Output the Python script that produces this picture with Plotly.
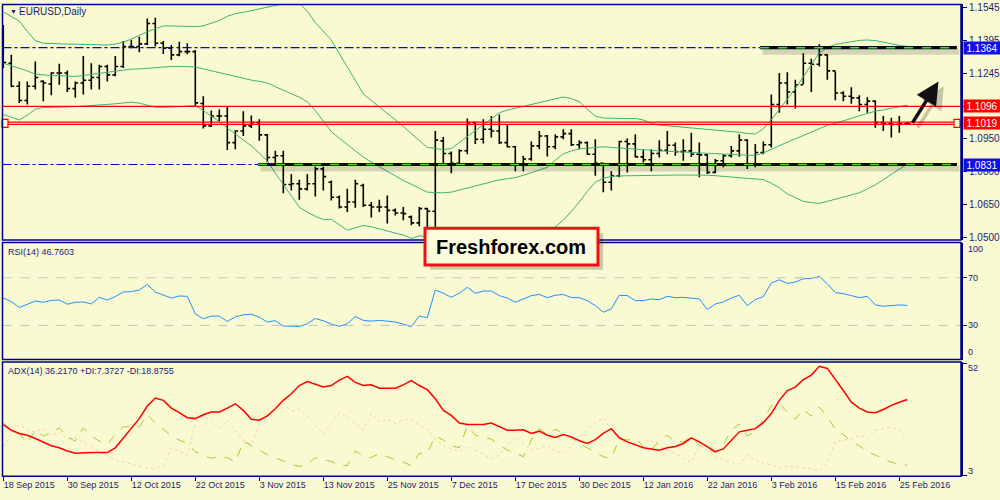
import plotly.graph_objects as go

# EURUSD daily bars, 18 Sep 2015 - 26 Feb 2016
opens = [1.1440, 1.1293, 1.1188, 1.1123, 1.1188, 1.1210, 1.1198, 1.1248, 1.1248, 1.1177,
         1.1203, 1.1215, 1.1228, 1.1278, 1.1240, 1.1278, 1.1369, 1.1369, 1.1381, 1.1474,
         1.1384, 1.1361, 1.1331, 1.1346, 1.1346, 1.1109, 1.1007, 1.1052, 1.1052, 1.0931,
         1.0984, 1.1007, 1.1022, 1.0966, 1.0863, 1.0871, 1.0740, 1.0743, 1.0720, 1.0743,
         1.0811, 1.0750, 1.0682, 1.0637, 1.0660, 1.0735, 1.0645, 1.0637, 1.0637, 1.0622,
         1.0610, 1.0592, 1.0565, 1.0630, 1.0618, 1.0939, 1.0881, 1.0836, 1.0894, 1.1022,
         1.0946, 1.0992, 1.0984, 1.0931, 1.0912, 1.0833, 1.0856, 1.0916, 1.0961, 1.0912,
         1.0957, 1.0972, 1.0921, 1.0931, 1.0878, 1.0836, 1.0750, 1.0780, 1.0936, 1.0925,
         1.0866, 1.0853, 1.0881, 1.0896, 1.0919, 1.0890, 1.0893, 1.0878, 1.0875, 1.0795,
         1.0848, 1.0871, 1.0893, 1.0942, 1.0833, 1.0886, 1.0921, 1.1105, 1.1203, 1.1162,
         1.1195, 1.1293, 1.1288, 1.1331, 1.1258, 1.1157, 1.1142, 1.1135, 1.1105, 1.1120,
         1.1022, 1.1017, 1.1014, 1.1017]
highs = [1.1467, 1.1331, 1.1210, 1.1210, 1.1301, 1.1215, 1.1252, 1.1290, 1.1260, 1.1210,
         1.1326, 1.1293, 1.1286, 1.1286, 1.1326, 1.1394, 1.1399, 1.1414, 1.1497, 1.1500,
         1.1394, 1.1376, 1.1391, 1.1384, 1.1353, 1.1142, 1.1077, 1.1082, 1.1097, 1.0987,
         1.1074, 1.1055, 1.1037, 1.0969, 1.0894, 1.0894, 1.0788, 1.0761, 1.0788, 1.0821,
         1.0821, 1.0758, 1.0690, 1.0720, 1.0762, 1.0743, 1.0660, 1.0670, 1.0690, 1.0630,
         1.0637, 1.0599, 1.0637, 1.0634, 1.0984, 1.0957, 1.0890, 1.0901, 1.1041, 1.1026,
         1.1037, 1.1052, 1.1059, 1.1011, 1.0916, 1.0871, 1.0936, 1.0984, 1.0966, 1.0969,
         1.0992, 1.0992, 1.0942, 1.0936, 1.0946, 1.0840, 1.0800, 1.0939, 1.0950, 1.0969,
         1.0901, 1.0901, 1.0942, 1.0984, 1.0931, 1.0946, 1.0976, 1.0931, 1.0878, 1.0856,
         1.0878, 1.0916, 1.0969, 1.0946, 1.0924, 1.0936, 1.1150, 1.1248, 1.1252, 1.1218,
         1.1338, 1.1313, 1.1379, 1.1334, 1.1255, 1.1165, 1.1183, 1.1147, 1.1138, 1.1123,
         1.1052, 1.1044, 1.1052, 1.1026]
lows = [1.1271, 1.1183, 1.1112, 1.1105, 1.1173, 1.1120, 1.1147, 1.1195, 1.1162, 1.1135,
        1.1150, 1.1173, 1.1173, 1.1210, 1.1233, 1.1271, 1.1361, 1.1343, 1.1376, 1.1369,
        1.1335, 1.1308, 1.1325, 1.1334, 1.1097, 1.0995, 1.1002, 1.1029, 1.0897, 1.0901,
        1.0961, 1.0998, 1.0939, 1.0841, 1.0833, 1.0700, 1.0713, 1.0670, 1.0713, 1.0685,
        1.0713, 1.0667, 1.0630, 1.0614, 1.0634, 1.0637, 1.0589, 1.0614, 1.0562, 1.0599,
        1.0577, 1.0554, 1.0550, 1.0516, 1.0524, 1.0833, 1.0791, 1.0825, 1.0878, 1.0924,
        1.0927, 1.0954, 1.0924, 1.0909, 1.0800, 1.0800, 1.0848, 1.0901, 1.0868, 1.0901,
        1.0946, 1.0916, 1.0901, 1.0875, 1.0780, 1.0705, 1.0712, 1.0773, 1.0795, 1.0863,
        1.0840, 1.0800, 1.0863, 1.0878, 1.0871, 1.0848, 1.0865, 1.0773, 1.0788, 1.0791,
        1.0818, 1.0863, 1.0866, 1.0810, 1.0818, 1.0878, 1.0909, 1.1067, 1.1105, 1.1087,
        1.1198, 1.1162, 1.1278, 1.1218, 1.1124, 1.1120, 1.1108, 1.1074, 1.1067, 1.0999,
        1.0984, 1.0954, 1.0976, 1.1014]
closes = [1.1296, 1.1188, 1.1123, 1.1188, 1.1228, 1.1203, 1.1248, 1.1248, 1.1177, 1.1203,
          1.1215, 1.1228, 1.1278, 1.1240, 1.1278, 1.1369, 1.1369, 1.1381, 1.1474, 1.1384,
          1.1361, 1.1331, 1.1346, 1.1346, 1.1112, 1.1007, 1.1052, 1.1052, 1.0931, 1.0984,
          1.1007, 1.1022, 1.0966, 1.0863, 1.0871, 1.0740, 1.0743, 1.0720, 1.0743, 1.0811,
          1.0776, 1.0682, 1.0637, 1.0660, 1.0743, 1.0645, 1.0637, 1.0637, 1.0622, 1.0610,
          1.0607, 1.0565, 1.0630, 1.0618, 1.0942, 1.0881, 1.0836, 1.0894, 1.1022, 1.0946,
          1.0992, 1.0984, 1.0931, 1.0912, 1.0833, 1.0856, 1.0916, 1.0961, 1.0912, 1.0957,
          1.0972, 1.0921, 1.0931, 1.0878, 1.0836, 1.0750, 1.0780, 1.0936, 1.0925, 1.0866,
          1.0853, 1.0881, 1.0896, 1.0919, 1.0890, 1.0893, 1.0878, 1.0875, 1.0795, 1.0848,
          1.0871, 1.0893, 1.0942, 1.0833, 1.0886, 1.0921, 1.1105, 1.1203, 1.1162, 1.1195,
          1.1293, 1.1288, 1.1331, 1.1258, 1.1157, 1.1142, 1.1135, 1.1105, 1.1120, 1.1022,
          1.1017, 1.1014, 1.1017, 1.1019]

# Bollinger bands
bb_upper = [1.1527, 1.1506, 1.1485, 1.1438, 1.1396, 1.1384, 1.1382, 1.1382, 1.1380, 1.1380,
            1.1379, 1.1377, 1.1377, 1.1376, 1.1380, 1.1389, 1.1403, 1.1420, 1.1436, 1.1450,
            1.1463, 1.1463, 1.1462, 1.1460, 1.1460, 1.1463, 1.1475, 1.1488, 1.1507, 1.1519,
            1.1525, 1.1533, 1.1539, 1.1548, 1.1558, 1.1566, 1.1572, 1.1568, 1.1530, 1.1478,
            1.1439, 1.1399, 1.1337, 1.1275, 1.1213, 1.1153, 1.1123, 1.1094, 1.1067, 1.1038,
            1.1005, 1.0972, 1.0940, 1.0909, 1.0904, 1.0899, 1.0904, 1.0931, 1.0958, 1.0987,
            1.1016, 1.1041, 1.1067, 1.1079, 1.1088, 1.1097, 1.1106, 1.1114, 1.1123, 1.1130,
            1.1139, 1.1132, 1.1117, 1.1083, 1.1052, 1.1043, 1.1041, 1.1041, 1.1041, 1.1041,
            1.1034, 1.1019, 1.1011, 1.1008, 1.1003, 1.1000, 1.0997, 1.0994, 1.0990, 1.0987,
            1.0984, 1.0981, 1.0978, 1.0973, 1.0970, 1.0994, 1.1035, 1.1082, 1.1130, 1.1177,
            1.1231, 1.1289, 1.1341, 1.1364, 1.1379, 1.1385, 1.1391, 1.1397, 1.1399, 1.1396,
            1.1389, 1.1380, 1.1374, 1.1370]
bb_middle = [1.1293, 1.1282, 1.1272, 1.1258, 1.1243, 1.1239, 1.1237, 1.1236, 1.1234, 1.1233,
             1.1237, 1.1242, 1.1248, 1.1252, 1.1257, 1.1263, 1.1266, 1.1267, 1.1270, 1.1273,
             1.1275, 1.1278, 1.1278, 1.1278, 1.1276, 1.1267, 1.1258, 1.1249, 1.1240, 1.1231,
             1.1224, 1.1216, 1.1210, 1.1203, 1.1186, 1.1171, 1.1154, 1.1138, 1.1117, 1.1077,
             1.1029, 1.0981, 1.0951, 1.0922, 1.0893, 1.0865, 1.0842, 1.0821, 1.0798, 1.0777,
             1.0758, 1.0741, 1.0723, 1.0705, 1.0703, 1.0702, 1.0705, 1.0715, 1.0724, 1.0734,
             1.0743, 1.0752, 1.0761, 1.0765, 1.0771, 1.0782, 1.0794, 1.0806, 1.0818, 1.0850,
             1.0880, 1.0893, 1.0902, 1.0905, 1.0909, 1.0912, 1.0909, 1.0907, 1.0904, 1.0902,
             1.0899, 1.0896, 1.0893, 1.0892, 1.0889, 1.0887, 1.0886, 1.0884, 1.0883, 1.0880,
             1.0878, 1.0877, 1.0875, 1.0874, 1.0872, 1.0884, 1.0901, 1.0916, 1.0933, 1.0948,
             1.0964, 1.0979, 1.0996, 1.1010, 1.1019, 1.1029, 1.1041, 1.1053, 1.1064, 1.1074,
             1.1080, 1.1088, 1.1094, 1.1102]
bb_lower = [1.1059, 1.1047, 1.1034, 1.1056, 1.1083, 1.1091, 1.1091, 1.1092, 1.1094, 1.1095,
            1.1097, 1.1098, 1.1101, 1.1105, 1.1108, 1.1112, 1.1115, 1.1111, 1.1100, 1.1092,
            1.1092, 1.1092, 1.1095, 1.1097, 1.1100, 1.1077, 1.1052, 1.1026, 1.0997, 1.0970,
            1.0943, 1.0916, 1.0883, 1.0847, 1.0792, 1.0738, 1.0687, 1.0636, 1.0614, 1.0595,
            1.0580, 1.0581, 1.0556, 1.0531, 1.0542, 1.0553, 1.0547, 1.0538, 1.0529, 1.0519,
            1.0509, 1.0494, 1.0506, 1.0501, 1.0503, 1.0504, 1.0506, 1.0500, 1.0491, 1.0480,
            1.0470, 1.0462, 1.0455, 1.0452, 1.0455, 1.0467, 1.0482, 1.0498, 1.0516, 1.0547,
            1.0577, 1.0617, 1.0660, 1.0709, 1.0750, 1.0768, 1.0777, 1.0779, 1.0780, 1.0780,
            1.0780, 1.0782, 1.0782, 1.0782, 1.0783, 1.0783, 1.0783, 1.0785, 1.0782, 1.0780,
            1.0777, 1.0776, 1.0773, 1.0771, 1.0768, 1.0762, 1.0746, 1.0725, 1.0697, 1.0679,
            1.0663, 1.0657, 1.0654, 1.0663, 1.0672, 1.0681, 1.0693, 1.0702, 1.0720, 1.0738,
            1.0762, 1.0788, 1.0810, 1.0833]

rsi = [53.0, 50.0, 45.0, 48.0, 50.5, 49.4, 51.0, 51.3, 47.8, 49.4,
       49.7, 48.0, 53.6, 51.3, 54.2, 58.0, 58.4, 59.7, 64.4, 58.0,
       55.8, 53.0, 54.7, 54.4, 39.7, 35.6, 37.8, 37.8, 33.3, 37.2,
       38.9, 39.4, 36.9, 32.8, 34.0, 29.4, 29.4, 28.9, 31.4, 35.8,
       33.9, 31.1, 29.2, 31.4, 37.5, 34.2, 33.6, 34.2, 33.6, 32.8,
       31.1, 29.0, 37.8, 36.4, 59.7, 57.0, 53.6, 57.0, 62.0, 57.0,
       58.9, 58.9, 55.0, 53.0, 49.4, 52.2, 55.0, 56.0, 53.3, 55.3,
       56.0, 53.3, 53.3, 50.8, 46.7, 41.1, 43.9, 55.3, 55.0, 50.8,
       50.8, 52.2, 51.6, 54.4, 53.3, 53.6, 52.8, 52.2, 43.3, 48.0,
       49.7, 53.0, 55.3, 46.7, 51.6, 54.2, 65.6, 68.3, 65.3, 66.4,
       69.2, 69.4, 71.1, 65.0, 57.5, 56.7, 55.0, 53.3, 54.4, 47.2,
       46.1, 46.4, 47.2, 46.76]

adx = [25.2, 22.7, 21.3, 20.5, 19.1, 17.6, 15.9, 15.0, 13.6, 12.6,
       12.9, 12.9, 12.9, 12.9, 15.0, 19.1, 23.7, 27.8, 33.3, 36.8,
       35.8, 32.4, 30.4, 28.2, 27.8, 29.5, 30.7, 30.7, 32.4, 34.3,
       31.4, 27.5, 27.1, 29.0, 32.1, 35.8, 38.7, 42.3, 44.0, 42.9,
       41.7, 42.3, 44.7, 46.3, 43.7, 42.3, 42.6, 41.1, 41.1, 41.1,
       42.6, 44.5, 42.3, 40.5, 36.5, 31.4, 29.2, 25.9, 25.2, 25.2,
       25.2, 25.9, 24.4, 22.7, 22.7, 22.9, 21.3, 22.3, 20.5, 19.5,
       20.8, 19.8, 18.1, 16.9, 18.6, 21.3, 23.4, 19.4, 17.6, 16.2,
       15.0, 14.5, 13.9, 15.0, 15.6, 16.9, 19.4, 17.6, 15.5, 13.3,
       14.5, 18.4, 22.0, 22.7, 23.4, 26.0, 30.0, 35.8, 40.1, 41.6,
       44.9, 46.9, 50.7, 49.8, 45.2, 40.1, 35.0, 32.4, 30.7, 30.4,
       31.8, 33.6, 35.0, 36.2]
plus_di = [26.0, 22.7, 21.3, 16.9, 22.7, 20.2, 21.7, 23.7, 19.8, 17.9,
           23.7, 20.2, 17.9, 16.5, 20.8, 24.2, 24.2, 24.2, 29.5, 26.0,
           23.2, 20.2, 18.4, 16.9, 13.3, 11.9, 10.4, 11.1, 10.7, 8.7,
           17.9, 15.9, 14.0, 12.1, 10.7, 9.2, 7.8, 6.8, 7.8, 10.7,
           9.7, 9.0, 7.5, 7.2, 13.6, 11.6, 10.7, 12.6, 11.1, 9.7,
           8.7, 7.2, 12.6, 12.6, 20.2, 18.4, 15.9, 15.0, 24.6, 20.5,
           19.8, 18.8, 16.2, 14.0, 12.6, 11.1, 18.4, 23.4, 20.8, 23.2,
           21.3, 19.4, 16.9, 15.0, 13.0, 11.1, 10.4, 19.1, 18.4, 19.1,
           15.5, 14.0, 18.4, 20.5, 17.6, 17.6, 19.8, 16.2, 14.5, 13.0,
           16.5, 22.7, 25.5, 20.2, 22.3, 27.1, 33.6, 34.3, 30.7, 27.5,
           31.8, 28.9, 32.9, 28.5, 23.2, 20.8, 17.9, 15.9, 13.3, 11.9,
           10.1, 8.7, 7.8, 7.37]
minus_di = [15.5, 20.8, 25.2, 22.7, 22.0, 23.4, 20.5, 22.0, 19.1, 19.4,
            17.4, 15.9, 13.0, 11.6, 9.7, 8.7, 7.8, 6.8, 6.0, 6.0,
            7.5, 15.0, 13.3, 11.9, 25.6, 29.2, 26.6, 23.4, 27.1, 22.7,
            18.4, 16.5, 25.6, 31.4, 33.9, 34.7, 31.0, 31.8, 28.9, 24.9,
            21.3, 25.6, 30.4, 28.5, 25.6, 22.7, 30.0, 26.3, 27.5, 25.6,
            27.4, 27.1, 24.9, 23.2, 18.8, 15.9, 14.7, 13.3, 15.9, 14.0,
            12.1, 10.1, 11.9, 16.2, 19.8, 16.9, 14.0, 14.7, 16.2, 13.6,
            12.6, 15.9, 19.8, 23.4, 26.0, 28.1, 22.7, 18.4, 16.2, 16.9,
            17.9, 17.9, 15.9, 14.0, 12.6, 10.4, 8.7, 15.9, 14.7, 10.7,
            9.7, 8.7, 7.8, 11.9, 9.7, 8.2, 7.5, 6.3, 6.8, 6.8,
            6.3, 5.8, 4.9, 9.0, 17.6, 18.4, 18.8, 20.5, 19.1, 22.7,
            23.4, 24.2, 22.7, 18.88]

tick_labels = ['18 Sep 2015', '30 Sep 2015', '12 Oct 2015', '22 Oct 2015', '3 Nov 2015',
               '13 Nov 2015', '25 Nov 2015', '7 Dec 2015', '17 Dec 2015', '30 Dec 2015',
               '12 Jan 2016', '22 Jan 2016', '3 Feb 2016', '15 Feb 2016', '25 Feb 2016']
# 1.1095 sits fully under the 1.1096 marker, so only its tick mark shows
price_ticks = [1.1545, 1.1395, 1.1245, 1.1095, 1.0950, 1.0800, 1.0650, 1.0500]
price_tick_text = ['1.1545', '1.1395', '1.1245', '', '1.0950', '1.0800', '1.0650', '1.0500']

resistance = 1.1364
level_red = 1.1096
level_bid = 1.1019
support = 1.0831

bg = '#fafad2'
navy = '#00008b'
txt = '#1a1a72'
font = 'Liberation Sans'

x = list(range(len(closes)))

fig = go.Figure()

band_style = dict(color='#3cb371', width=1)
fig.add_trace(go.Scatter(x=x, y=bb_upper, mode='lines', line=band_style, xaxis='x', yaxis='y'))
fig.add_trace(go.Scatter(x=x, y=bb_middle, mode='lines', line=band_style, xaxis='x', yaxis='y'))
fig.add_trace(go.Scatter(x=x, y=bb_lower, mode='lines', line=band_style, xaxis='x', yaxis='y'))

fig.add_trace(go.Ohlc(x=x, open=opens, high=highs, low=lows, close=closes,
                      increasing=dict(line=dict(color='black', width=1.6)),
                      decreasing=dict(line=dict(color='black', width=1.6)),
                      tickwidth=0.36, xaxis='x', yaxis='y'))

fig.add_trace(go.Scatter(x=x, y=rsi, mode='lines', line=dict(color='#1e90ff', width=1),
                         xaxis='x2', yaxis='y2'))

fig.add_trace(go.Scatter(x=x, y=minus_di, mode='lines',
                         line=dict(color='#f5cdb0', width=1, dash='dot'), xaxis='x3', yaxis='y3'))
fig.add_trace(go.Scatter(x=x, y=plus_di, mode='lines',
                         line=dict(color='#9acd32', width=1, dash='dash'), xaxis='x3', yaxis='y3'))
fig.add_trace(go.Scatter(x=x, y=adx, mode='lines', line=dict(color='#ff0000', width=1.5),
                         xaxis='x3', yaxis='y3'))

xr = [-0.1, 119.71]
xdom = [0.0025, 0.961]
plain_x = dict(domain=xdom, range=xr, showgrid=False, zeroline=False, showline=False,
               showticklabels=False, ticks='')

shapes = []
# horizontal levels on the price chart
for lv in [resistance, support]:
    shapes.append(dict(type='line', xref='x', yref='y', x0=xr[0], x1=119.2, y0=lv, y1=lv,
                       line=dict(color='#0000e0', width=1.2, dash='dashdot')))
shapes.append(dict(type='line', xref='x', yref='y', x0=xr[0], x1=xr[1], y0=level_red, y1=level_red,
                   line=dict(color='#ff0000', width=1.2)))
for off in [0.00052, -0.00052]:
    shapes.append(dict(type='line', xref='x', yref='y', x0=xr[0], x1=119.2,
                       y0=level_bid + off, y1=level_bid + off, line=dict(color='#ff0000', width=1.2)))
for lv, start in [(resistance, 94.6), (support, 31.84)]:
    shapes.append(dict(type='line', xref='x', yref='y', ysizemode='pixel', yanchor=lv,
                       x0=start + 0.3, x1=119.5, y0=-4, y1=-4,
                       line=dict(color='rgba(0,0,0,0.15)', width=6)))
    shapes.append(dict(type='line', xref='x', yref='y', x0=start, x1=119.2, y0=lv, y1=lv,
                       line=dict(color='#050520', width=3.2)))
    shapes.append(dict(type='line', xref='x', yref='y', x0=start, x1=119.2, y0=lv, y1=lv,
                       line=dict(color='#2ee82e', width=1.5, dash='dash')))
# small selection squares on the bid line
for px in [0.005, 0.957]:
    shapes.append(dict(type='rect', xref='paper', xsizemode='pixel', xanchor=px, x0=-3, x1=3,
                       yref='y', ysizemode='pixel', yanchor=level_bid, y0=-4, y1=4,
                       line=dict(color='#ff0000', width=1.2), fillcolor=bg))
# RSI levels
for lv in [70, 30]:
    shapes.append(dict(type='line', xref='x2', yref='y2', x0=xr[0], x1=xr[1], y0=lv, y1=lv,
                       line=dict(color='#c0c0c0', width=1, dash='dash')))
# panel frames
for top, bot in [(2.5, 240), (242.5, 360.5), (363, 478)]:
    shapes.append(dict(type='rect', xref='paper', yref='paper', x0=xdom[0], x1=xdom[1],
                       y0=1 - bot / 500, y1=1 - top / 500, layer='above',
                       line=dict(color=navy, width=1.5)))
# logo box with shadow
shapes.append(dict(type='rect', xref='paper', yref='paper', x0=0.430, x1=0.603,
                   y0=1 - 270 / 500, y1=1 - 233 / 500, layer='above',
                   fillcolor='rgba(0,0,0,0.2)', line=dict(width=0)))
shapes.append(dict(type='rect', xref='paper', yref='paper', x0=0.425, x1=0.598,
                   y0=1 - 265 / 500, y1=1 - 228 / 500, layer='above',
                   fillcolor='#fcfcdc', line=dict(color='#ee1111', width=3)))

ann = []
ann.append(dict(xref='paper', yref='paper', x=0.008, y=1 - 10 / 500, text='▼', showarrow=False,
                xanchor='left', yanchor='middle', font=dict(family=font, size=7, color=txt)))
ann.append(dict(xref='paper', yref='paper', x=0.017, y=1 - 10 / 500, text='EURUSD,Daily',
                showarrow=False, xanchor='left', yanchor='middle',
                font=dict(family=font, size=10, color=txt)))
ann.append(dict(xref='paper', yref='paper', x=0.006, y=1 - 252 / 500, text='RSI(14) 46.7603',
                showarrow=False, xanchor='left', yanchor='middle',
                font=dict(family=font, size=9, color=txt)))
ann.append(dict(xref='paper', yref='paper', x=0.006, y=1 - 372 / 500,
                text='ADX(14) 36.2170 +DI:7.3727 -DI:18.8755',
                showarrow=False, xanchor='left', yanchor='middle',
                font=dict(family=font, size=9, color=txt)))
for label, ypx in [('100', 249), ('70', 278), ('30', 326), ('0', 353), ('52', 369), ('3', 473)]:
    ann.append(dict(xref='paper', yref='paper', x=0.966, y=1 - ypx / 500, text=label,
                    showarrow=False, xanchor='left', yanchor='middle',
                    font=dict(family=font, size=9, color=txt)))
for lv, col in [(resistance, '#1010e8'), (level_red, '#ff0000'), (level_bid, '#ff0000'),
                (support, '#1010e8')]:
    ann.append(dict(xref='paper', yref='y', x=0.9625, y=lv, text='%.4f' % lv, showarrow=False,
                    xanchor='left', yanchor='middle', bgcolor=col, width=36, height=12,
                    borderpad=0, font=dict(family=font, size=10, color='white')))
ann.append(dict(xref='paper', yref='paper', x=0.5115, y=1 - 247 / 500, text='<b>Freshforex.com</b>',
                showarrow=False, xanchor='center', yanchor='middle',
                font=dict(family=font, size=20, color='black')))
# trend arrow with shadow
ann.append(dict(xref='x', yref='y', x=117.2, y=1.1202, ax=-27, ay=43, text='', showarrow=True,
                arrowhead=2, arrowsize=1.3, arrowwidth=3.5, arrowcolor='rgba(0,0,0,0.2)',
                xshift=3, yshift=-3))
ann.append(dict(xref='x', yref='y', x=116.9, y=1.1210, ax=-27, ay=43, text='', showarrow=True,
                arrowhead=2, arrowsize=1.3, arrowwidth=3.5, arrowcolor='#111111'))

fig.update_layout(
    width=1000, height=500,
    margin=dict(l=0, r=0, t=0, b=0),
    paper_bgcolor=bg, plot_bgcolor=bg,
    showlegend=False,
    hovermode=False,
    xaxis=dict(plain_x, anchor='y', rangeslider=dict(visible=False)),
    xaxis2=dict(plain_x, anchor='y2', matches='x'),
    xaxis3=dict(domain=xdom, range=xr, anchor='y3', matches='x', showgrid=False, zeroline=False,
                tickvals=list(range(0, len(closes), 8)), ticktext=tick_labels,
                ticks='outside', ticklen=4, tickcolor=navy, ticklabelposition='outside right',
                tickfont=dict(family=font, size=9, color=txt)),
    yaxis=dict(domain=[1 - 240 / 500, 1 - 2.5 / 500], range=[1.04864, 1.15608], side='right',
               anchor='x', tickvals=price_ticks, ticktext=price_tick_text,
               ticks='outside', ticklen=4, tickcolor=navy, showgrid=False, zeroline=False,
               showline=True, linecolor=navy, linewidth=2,
               tickfont=dict(family=font, size=10, color=txt)),
    yaxis2=dict(domain=[1 - 360.5 / 500, 1 - 242.5 / 500], range=[1.25, 99.58], side='right',
                anchor='x2', tickvals=[0, 30, 70, 100], showticklabels=False, ticks='outside',
                ticklen=4, tickcolor=navy, showgrid=False, zeroline=False,
                showline=True, linecolor=navy, linewidth=2),
    yaxis3=dict(domain=[1 - 478 / 500, 1 - 363 / 500], range=[2.57, 52.57], side='right',
                anchor='x3', tickvals=[3, 52], showticklabels=False, ticks='outside',
                ticklen=4, tickcolor=navy, showgrid=False, zeroline=False,
                showline=True, linecolor=navy, linewidth=2),
    shapes=shapes,
    annotations=ann,
)

# the page body has a default margin; drop it so the figure fills the window
fig.write_html("out.html", config={'displayModeBar': False},
               post_script="document.body.style.margin='0';document.body.style.overflow='hidden';")
